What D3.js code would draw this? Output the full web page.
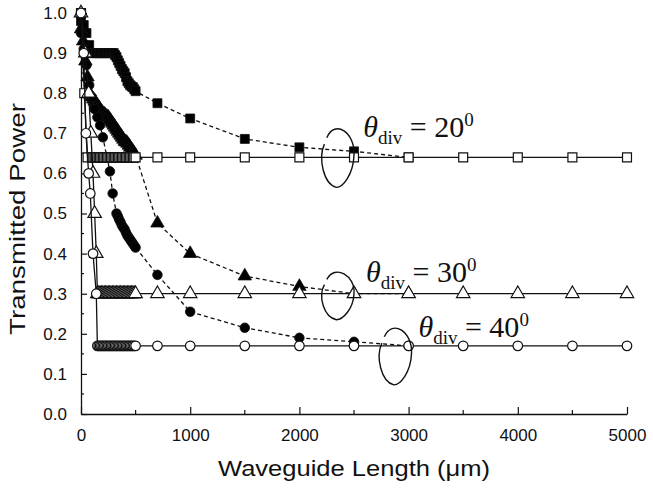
<!DOCTYPE html>
<html><head><meta charset="utf-8">
<script src="https://cdn.jsdelivr.net/npm/d3@7"></script>
<style>body{margin:0;background:#fff}svg{display:block}</style>
</head><body>
<svg id="c" width="653" height="490"></svg>
<script>
// ---- data (x in µm, y = transmitted power) ----
const xTicks = [0,1000,2000,3000,4000,5000];
const yTicks = [0,0.1,0.2,0.3,0.4,0.5,0.6,0.7,0.8,0.9,1.0];

// theta_div = 20 deg  (filled squares, dashed)
const sq20FilledX = [0,25,50,75,
  100,112.5,125,137.5,150,162.5,175,187.5,200,212.5,225,237.5,250,262.5,275,287.5,300,
  312.5,325,337.5,350,362.5,375,387.5,400,412.5,425,437.5,450,462.5,475,487.5,500,
  700,1000,1500,2000,2500,3000];
const sq20FilledY = [0.98,0.97,0.95,0.92,
  0.90,0.90,0.90,0.90,0.90,0.90,0.90,0.90,0.90,0.90,0.90,0.90,0.90,0.90,0.90,0.90,0.90,
  0.895,0.89,0.882,0.875,0.868,0.86,0.855,0.85,0.84,0.83,0.825,0.82,0.817,0.815,0.81,0.805,
  0.775,0.737,0.686,0.665,0.655,0.64];
// (open squares, solid)
const sq20OpenX = [0,30,60,
  100,112.5,125,137.5,150,162.5,175,187.5,200,212.5,225,237.5,250,262.5,275,287.5,300,
  312.5,325,337.5,350,362.5,375,387.5,400,412.5,425,437.5,450,462.5,475,487.5,500,
  700,1000,1500,2000,2500,3000,3500,4000,4500,5000];
const sq20OpenY = [1.0,0.8,0.64,
  0.64,0.64,0.64,0.64,0.64,0.64,0.64,0.64,0.64,0.64,0.64,0.64,0.64,0.64,0.64,0.64,0.64,
  0.64,0.64,0.64,0.64,0.64,0.64,0.64,0.64,0.64,0.64,0.64,0.64,0.64,0.64,0.64,0.64,
  0.64,0.64,0.64,0.64,0.64,0.64,0.64,0.64,0.64,0.64];

// theta_div = 30 deg (filled triangles, dashed)
const tr30FilledX = [0,20,40,60,
  75,87.5,100,112.5,125,137.5,150,162.5,175,187.5,200,212.5,225,237.5,250,262.5,275,287.5,
  300,312.5,325,337.5,350,362.5,375,387.5,400,412.5,425,437.5,450,462.5,475,487.5,500,
  700,1000,1500,2000,2500,3000];
const tr30FilledY = [0.96,0.93,0.88,0.84,
  0.80,0.795,0.79,0.785,0.78,0.775,0.77,0.765,0.76,0.755,0.75,0.748,0.745,0.742,0.74,0.735,0.73,0.725,
  0.72,0.715,0.71,0.705,0.70,0.695,0.69,0.685,0.68,0.678,0.675,0.67,0.665,0.66,0.655,0.65,0.645,
  0.476,0.40,0.344,0.318,0.30,0.30];
// (open triangles, solid)
const tr30OpenX = [0,40,70,90,110,125,140,150,
  162.5,175,187.5,200,212.5,225,237.5,250,262.5,275,287.5,300,312.5,325,337.5,350,
  362.5,375,387.5,400,412.5,425,437.5,450,462.5,475,487.5,500,
  700,1000,1500,2000,2500,3000,3500,4000,4500,5000];
const tr30OpenY = [1.0,0.9,0.8,0.7,0.6,0.5,0.4,0.3,
  0.3,0.3,0.3,0.3,0.3,0.3,0.3,0.3,0.3,0.3,0.3,0.3,0.3,0.3,0.3,0.3,
  0.3,0.3,0.3,0.3,0.3,0.3,0.3,0.3,0.3,0.3,0.3,0.3,
  0.3,0.3,0.3,0.3,0.3,0.3,0.3,0.3,0.3,0.3];

// theta_div = 40 deg (filled circles, dashed)
const ci40FilledX = [0,25,50,75,100,125,150,175,200,265,290,
  325,337.5,350,362.5,375,387.5,400,412.5,425,437.5,450,462.5,475,487.5,500,
  700,1000,1500,2000,2500,3000];
const ci40FilledY = [0.95,0.91,0.87,0.82,0.79,0.76,0.74,0.72,0.69,0.605,0.55,
  0.50,0.493,0.485,0.478,0.47,0.465,0.46,0.452,0.445,0.44,0.435,0.43,0.425,0.42,0.415,
  0.347,0.255,0.215,0.19,0.18,0.17];
// (open circles, solid)
const ci40OpenX = [0,25,45,70,85,110,140,
  150,162.5,175,187.5,200,212.5,225,237.5,250,262.5,275,287.5,300,312.5,325,337.5,350,
  362.5,375,387.5,400,412.5,425,437.5,450,462.5,475,487.5,500,
  700,1000,1500,2000,2500,3000,3500,4000,4500,5000];
const ci40OpenY = [1.0,0.9,0.7,0.6,0.55,0.4,0.3,
  0.17,0.17,0.17,0.17,0.17,0.17,0.17,0.17,0.17,0.17,0.17,0.17,0.17,0.17,0.17,0.17,0.17,
  0.17,0.17,0.17,0.17,0.17,0.17,0.17,0.17,0.17,0.17,0.17,0.17,
  0.17,0.17,0.17,0.17,0.17,0.17,0.17,0.17,0.17,0.17];

const labels = [
  {angle:"20", at:2500, v:0.645, tx:2585, tv:0.69},
  {angle:"30", at:2500, v:0.30, tx:2610, tv:0.33},
  {angle:"40", at:2880, v:0.17, tx:3090, tv:0.193}
];

const zip = (xs, ys) => xs.map((d,i)=>({x:d, y:ys[i]}));

const svg = d3.select("#c");
const x = d3.scaleLinear().domain([0,5000]).range([81,627]);
const y = d3.scaleLinear().domain([0,1]).range([414,13]);

// axes
const xAxis = d3.axisBottom(x).tickValues(xTicks).tickSize(-7).tickSizeOuter(0).tickPadding(15).tickFormat(d3.format("d"));
const gx = svg.append("g").attr("transform","translate(0,414)").call(xAxis);
gx.selectAll("text").attr("font-family","'Liberation Sans', Arial, sans-serif").attr("font-size",17).attr("fill","#111");
gx.select(".domain").attr("stroke","#111").attr("stroke-width",1.3);
gx.selectAll(".tick line").attr("stroke","#111").attr("stroke-width",1.2);
svg.append("g").selectAll("line").data([500,1500,2500,3500,4500]).join("line")
  .attr("x1",d=>x(d)).attr("x2",d=>x(d)).attr("y1",414).attr("y2",410)
  .attr("stroke","#111").attr("stroke-width",1.2);

const yAxis = d3.axisLeft(y).tickValues(yTicks).tickSize(-6).tickSizeOuter(0).tickPadding(14).tickFormat(d3.format(".1f"));
const gy = svg.append("g").attr("transform","translate(81,0)").call(yAxis);
gy.selectAll("text").attr("font-family","'Liberation Sans', Arial, sans-serif").attr("font-size",17).attr("fill","#111");
gy.select(".domain").attr("stroke","#111").attr("stroke-width",1.3);
gy.selectAll(".tick line").attr("stroke","#111").attr("stroke-width",1.2);
svg.append("g").selectAll("line").data([0.05,0.15,0.25,0.35,0.45,0.55,0.65,0.75,0.85,0.95]).join("line")
  .attr("x1",81).attr("x2",84).attr("y1",d=>y(d)).attr("y2",d=>y(d))
  .attr("stroke","#111").attr("stroke-width",1.2);

// titles
svg.append("text").attr("x",354).attr("y",476).attr("text-anchor","middle")
  .attr("font-family","'Liberation Sans', Arial, sans-serif").attr("font-size",22)
  .attr("textLength",272).attr("lengthAdjust","spacingAndGlyphs").attr("fill","#111")
  .text("Waveguide Length (\u03bcm)");
svg.append("text").attr("transform","translate(25,219) rotate(-90)").attr("text-anchor","middle")
  .attr("font-family","'Liberation Sans', Arial, sans-serif").attr("font-size",22)
  .attr("textLength",232).attr("lengthAdjust","spacingAndGlyphs").attr("fill","#111")
  .text("Transmitted Power");

const line = d3.line().x(d=>x(d.x)).y(d=>y(d.y));
const plot = svg.append("g");

function drawSeries(data, shape, filled, dashed){
  plot.append("path").datum(data).attr("d",line).attr("fill","none")
    .attr("stroke","#111").attr("stroke-width",1.3)
    .attr("stroke-dasharray", dashed ? "4,3" : null);
  const size = shape===d3.symbolTriangle ? 78 : (shape===d3.symbolSquare ? 80 : 72);
  const sym = d3.symbol().type(shape).size(size);
  plot.append("g").selectAll("path").data(data).join("path")
    .attr("d",sym)
    .attr("transform",d=>`translate(${x(d.x)},${y(d.y)})`)
    .attr("fill", filled ? "#000" : "#fff")
    .attr("stroke","#111").attr("stroke-width", filled?0.8:1.2);
}

drawSeries(zip(sq20FilledX,sq20FilledY), d3.symbolSquare, true, true);
drawSeries(zip(tr30FilledX,tr30FilledY), d3.symbolTriangle, true, true);
drawSeries(zip(ci40FilledX,ci40FilledY), d3.symbolCircle, true, true);
drawSeries(zip(sq20OpenX,sq20OpenY), d3.symbolSquare, false, false);
drawSeries(zip(tr30OpenX,tr30OpenY), d3.symbolTriangle, false, false);
drawSeries(zip(ci40OpenX,ci40OpenY), d3.symbolCircle, false, false);

// annotations: loops + theta labels
const ann = svg.append("g");
labels.forEach((L,i)=>{
  const cx = x(L.at) - (i===2?0:16), cy = y(L.v)+ (i===2?8:0);
  const rx = 16, ry = i===0?32:(i===1?26:31);
  const p = d3.path();
  p.moveTo(cx-rx*0.7, cy-ry*0.55);
  p.bezierCurveTo(cx-rx*0.2, cy-ry*1.15, cx+rx*1.1, cy-ry*0.7, cx+rx, cy);
  p.bezierCurveTo(cx+rx*0.95, cy+ry*0.6, cx+rx*0.3, cy+ry*1.0, cx-rx*0.1, cy+ry);
  p.bezierCurveTo(cx-rx*0.9, cy+ry*0.9, cx-rx*1.25, cy+ry*0.1, cx-rx*0.85, cy-ry*0.35);
  ann.append("path").attr("d",p.toString()).attr("fill","none").attr("stroke","#111").attr("stroke-width",1.4);

  const t = ann.append("text").attr("x",x(L.tx)).attr("y",y(L.tv))
    .attr("font-family","'Liberation Serif','Times New Roman',serif").attr("fill","#111");
  t.append("tspan").attr("font-size",30).attr("font-style","italic").text("\u03b8");
  t.append("tspan").attr("font-size",19).attr("dy",7).text("div");
  t.append("tspan").attr("font-size",30).attr("dy",-7).text(" = " + L.angle);
  t.append("tspan").attr("font-size",19).attr("dy",-11).text("0");
});
</script>
</body></html>
